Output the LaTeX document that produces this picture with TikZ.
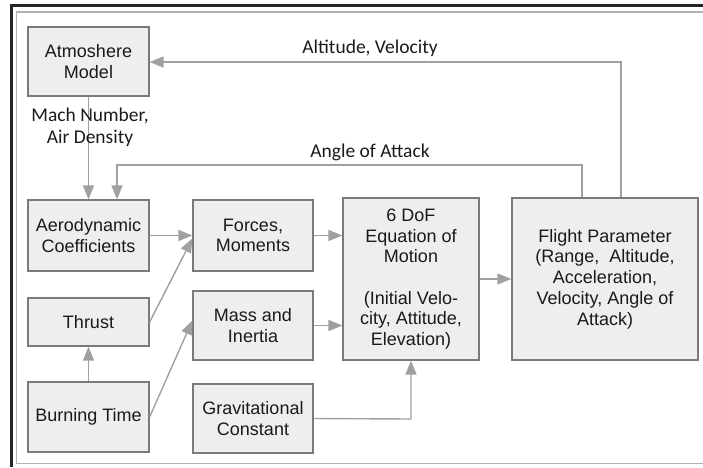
\documentclass[tikz,border=0pt]{standalone}
\usepackage{fontspec}
\setmainfont{Liberation Sans}
\newfontfamily\labfont{Carlito}
\usetikzlibrary{arrows.meta}
\definecolor{boxfill}{HTML}{EEEEEE}
\definecolor{boxline}{HTML}{7A7A7A}
\definecolor{arrline}{HTML}{A0A0A0}
\definecolor{txt}{HTML}{1A1A1A}
\begin{document}
\begin{tikzpicture}[x=1pt,y=-1pt,
  blk/.style={draw=boxline,line width=1.3pt,fill=boxfill,inner sep=0pt,align=center,
    text=txt,font=\fontsize{18}{20.7}\selectfont},
  conn/.style={draw=arrline,line width=1.4pt,-{Triangle[length=14pt,width=11pt]}},
  lab/.style={text=txt,font=\labfont\fontsize{19.5}{22}\selectfont,align=center,inner sep=0pt}]
\useasboundingbox (0,0) rectangle (703,467);
% frame
\draw[draw=black!85,line width=3pt] (11.5,467) -- (11.5,5.5) -- (703,5.5);
\draw[draw=black!30,line width=1.5pt] (16.5,463.5) -- (16.5,12) -- (703,12);
\draw[draw=black!30,line width=1.5pt] (16.5,463.5) -- (703,463.5);
% boxes
\node[blk,minimum width=121pt,minimum height=69pt] (atm) at (88.5,61.5) {Atmoshere\\Model};
\node[blk,minimum width=121pt,minimum height=71pt] (aero) at (88.5,235.5) {Aerodynamic\\Coefficients};
\node[blk,minimum width=121pt,minimum height=48pt] (thr) at (88.5,322) {Thrust};
\node[blk,minimum width=121pt,minimum height=70pt] (burn) at (88.5,417) {Burning Time};
\node[blk,minimum width=120pt,minimum height=71pt] (force) at (253,235.5) {Forces,\\Moments};
\node[blk,minimum width=120pt,minimum height=69pt] (mass) at (253,325.5) {Mass and\\Inertia};
\node[blk,minimum width=120pt,minimum height=69pt] (grav) at (253,418.5) {Gravitational\\Constant};
\node[blk,minimum width=136pt,minimum height=162pt] (dof) at (411,279) {6 DoF\\Equation of\\Motion\\[20.7pt](Initial Velo-\\city, Attitude,\\Elevation)};
\node[blk,minimum width=186pt,minimum height=162pt] (fp) at (605,279) {Flight Parameter\\(Range,\ \ Altitude,\\Acceleration,\\Velocity, Angle of\\Attack)};
% helper coordinates
\coordinate (c1) at (621,62);
\coordinate (c2) at (582,165);
\coordinate (c3) at (117,165);
\coordinate (c4) at (411,419);
% connectors
\draw[conn] (fp.north -| c1) -- (c1) -- (c1 -| atm.east);
\draw[conn] (fp.north -| c2) -- (c2) -- (c3) -- (c3 |- aero.north);
\draw[conn] (atm.south) -- (aero.north);
\draw[conn] (aero.east) -- (force.west);
\draw[conn] (thr.east) -- ([yshift=-3pt]force.west);
\draw[conn] (burn.east) -- ([yshift=5pt]mass.west);
\draw[conn] (burn.north) -- (thr.south);
\draw[conn] (force.east) -- (force.east -| dof.west);
\draw[conn] (mass.east) -- (mass.east -| dof.west);
\draw[conn] (grav.east) -- (c4) -- (dof.south);
\draw[conn] (dof.east) -- (fp.west);
% labels
\node[lab] (l1) at (370,48) {Altitude, Velocity};
\node[lab] (l2) at (370,152) {Angle of Attack};
\node[lab] (l3) at (90,127) {Mach Number,\\Air Density};
\end{tikzpicture}
\end{document}
